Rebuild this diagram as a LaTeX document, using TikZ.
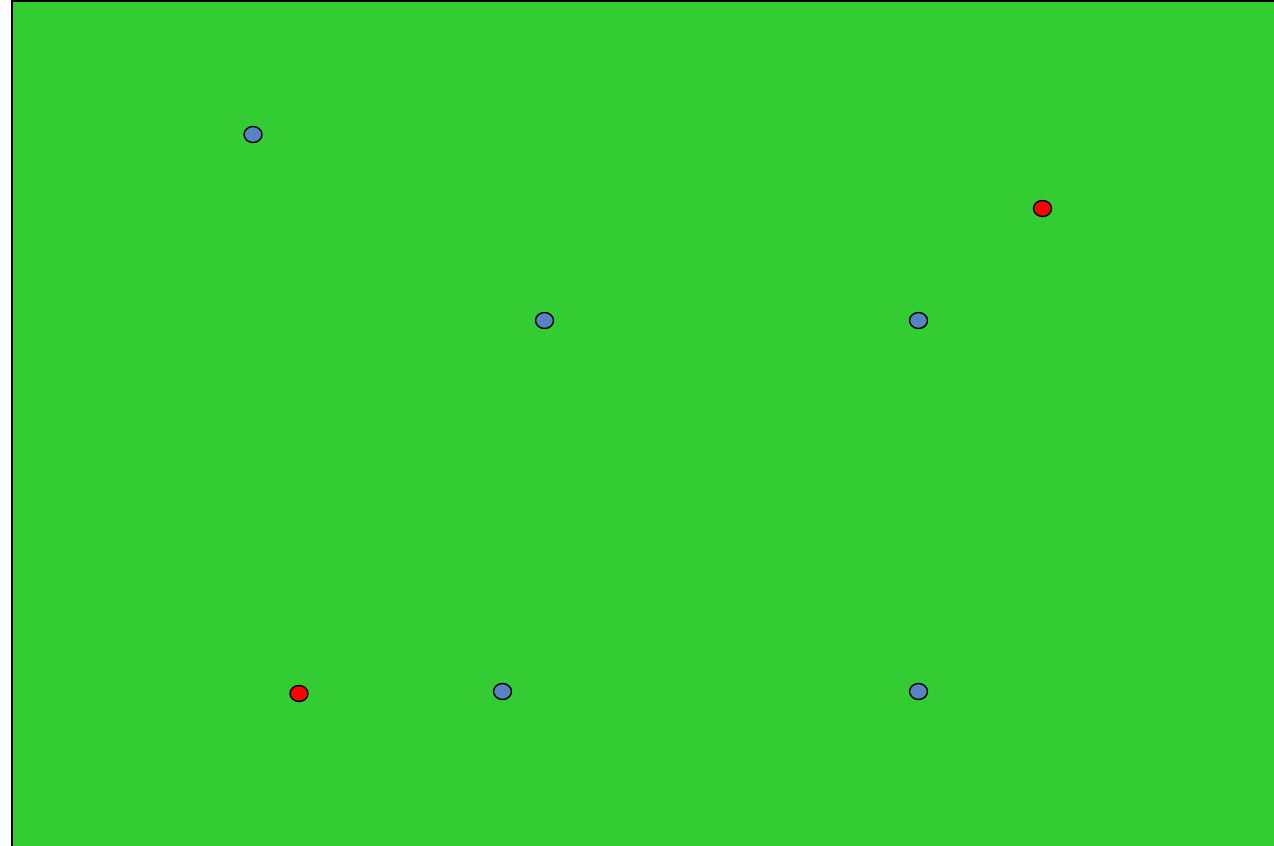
\documentclass[tikz,border=0pt]{standalone}
\usepackage{tikz}
\usepackage{xcolor}
\definecolor{fieldgreen}{RGB}{51, 204, 51}
\definecolor{dotblue}{RGB}{88, 130, 196}
\definecolor{dotred}{RGB}{255, 0, 0}
\usetikzlibrary{shapes.geometric}

\begin{document}
\begin{tikzpicture}[x=0.02cm, y=-0.02cm,
    dot/.style={ellipse, draw, thick, minimum width=0.36cm, minimum height=0.32cm, inner sep=0pt},
    bluedot/.style={dot, fill=dotblue},
    reddot/.style={dot, fill=dotred}
]
\useasboundingbox (0,0) rectangle (1274,845);
\clip (0,0) rectangle (1274,845);

% === Campo ===
\draw[line width=1.5pt, fill=fieldgreen] (12,1) rectangle (1290,860);

% === Puntos ===
\node[bluedot] (b1) at (253,134.5) {};
\node[reddot]  (r1) at (1042.5,208.5) {};
\node[bluedot] (b2) at (544.5,320.5) {};
\node[bluedot] (b3) at (918.5,320.5) {};
\node[reddot]  (r2) at (299,693.5) {};
\node[bluedot] (b4) at (502.5,691.5) {};
\node[bluedot] (b5) at (918.5,691.5) {};

\end{tikzpicture}
\end{document}
